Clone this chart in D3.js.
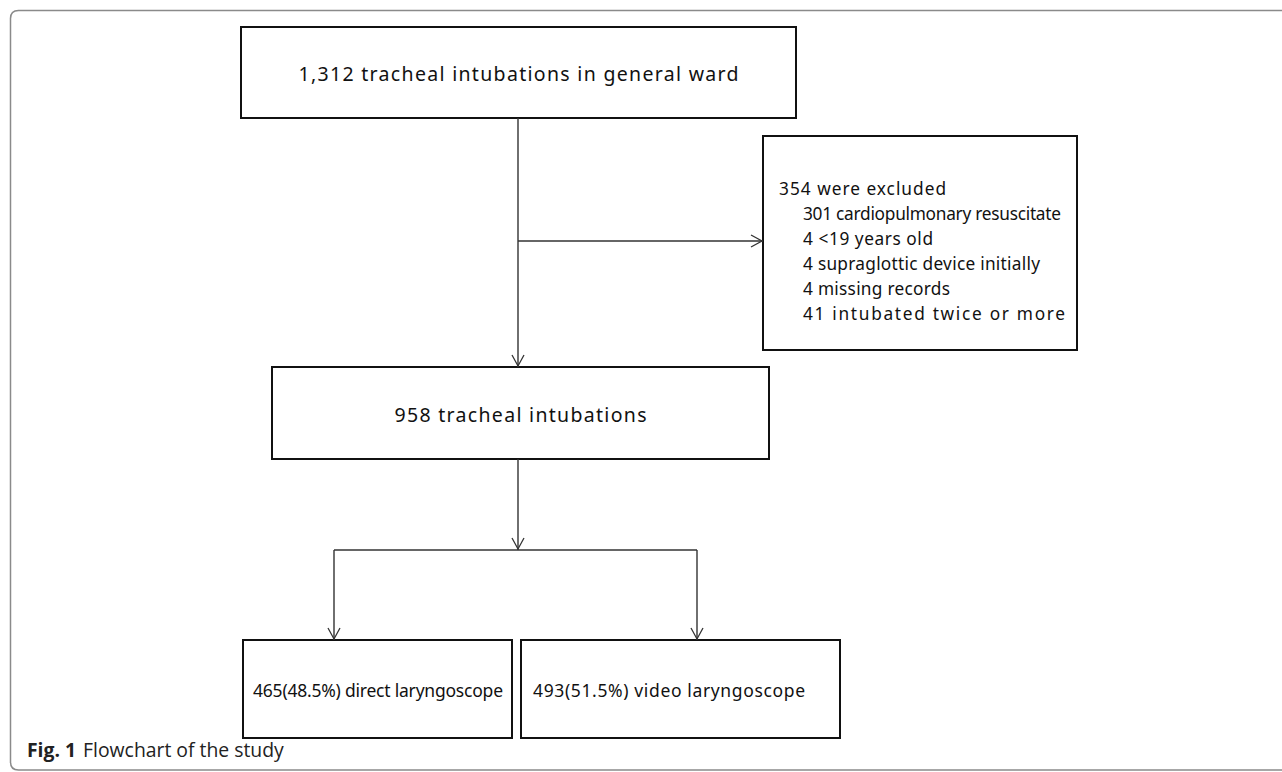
<!DOCTYPE html>
<html>
<head>
<meta charset="utf-8">
<script src="https://cdn.jsdelivr.net/npm/d3@7"></script>
<style>
  html, body { margin: 0; padding: 0; background: #fff; }
  svg { display: block; }
</style>
</head>
<body>
<svg id="chart" width="1282" height="772"></svg>
<script>
// ---- data ----
const totalLabel = "1,312 tracheal intubations in general ward";
const excludedHeader = "354 were excluded";
const excludedCounts = ["301", "4", "4", "4", "41"];
const excludedReasons = ["cardiopulmonary resuscitate", "<19 years old", "supraglottic device initially", "missing records", "intubated twice or more"];
const includedLabel = "958 tracheal intubations";
const groupCounts = ["465", "493"];
const groupPercents = ["48.5%", "51.5%"];
const groupNames = ["direct laryngoscope", "video laryngoscope"];
const captionBold = "Fig. 1";
const captionText = "Flowchart of the study";

// ---- layout ----
const svg = d3.select("#chart");
const FONT = "'Noto Sans', 'DejaVu Sans', sans-serif";
const boxStroke = "#111";
const lineStroke = "#333";

// outer frame (rounded on the left, open to the right/bottom)
svg.append("path")
  .attr("d", "M 1290 10.5 L 18.5 10.5 Q 10.5 10.5 10.5 18.5 L 10.5 762 Q 10.5 770 18.5 770 L 1290 770")
  .attr("fill", "none").attr("stroke", "#8a8a8a").attr("stroke-width", 1.5);

const boxes = [
  {x: 241, y: 27, w: 555, h: 91, label: totalLabel, align: "middle", size: 19.5, tw: 440},
  {x: 272, y: 367, w: 497, h: 92, label: includedLabel, align: "middle", size: 19.5, tw: 252},
  {x: 243, y: 640, w: 269, h: 98, label: groupCounts[0] + "(" + groupPercents[0] + ") " + groupNames[0], align: "start", pad: 10, size: 17.5, tw: 250},
  {x: 521, y: 640, w: 319, h: 98, label: groupCounts[1] + "(" + groupPercents[1] + ") " + groupNames[1], align: "start", pad: 12, size: 17.5, tw: 272}
];

boxes.forEach(b => {
  svg.append("rect").attr("x", b.x).attr("y", b.y).attr("width", b.w).attr("height", b.h)
    .attr("fill", "#fff").attr("stroke", boxStroke).attr("stroke-width", 2);
  svg.append("text")
    .attr("x", b.align === "middle" ? b.x + b.w / 2 : b.x + b.pad)
    .attr("y", b.y + b.h / 2 + 1)
    .attr("text-anchor", b.align).attr("dominant-baseline", "central")
    .attr("font-family", FONT).attr("font-size", b.size).attr("fill", "#111")
    .attr("textLength", b.tw).attr("lengthAdjust", "spacing")
    .text(b.label);
});

// exclusion box
const ex = {x: 763, y: 136, w: 314, h: 214};
svg.append("rect").attr("x", ex.x).attr("y", ex.y).attr("width", ex.w).attr("height", ex.h)
  .attr("fill", "#fff").attr("stroke", boxStroke).attr("stroke-width", 2);
const exLines = [excludedHeader].concat(excludedCounts.map((c, i) => c + " " + excludedReasons[i]));
const exTargets = [167, 258, 130, 237, 147, 262];
const exText = svg.append("g").selectAll("text").data(exLines).join("text")
  .attr("x", (d, i) => i === 0 ? ex.x + 16 : ex.x + 40)
  .attr("y", (d, i) => 188 + i * 25)
  .attr("dominant-baseline", "central")
  .attr("font-family", FONT).attr("font-size", 18).attr("fill", "#111")
  .text(d => d);
// size so the widest-natural line fits slightly compressed, then match each line's width
const w301 = exText.filter((d, i) => i === 1).node().getComputedTextLength();
exText.attr("font-size", 18 * 266 / w301)
  .attr("textLength", (d, i) => exTargets[i]).attr("lengthAdjust", "spacing");

// connectors
function line(x1, y1, x2, y2) {
  svg.append("line").attr("x1", x1).attr("y1", y1).attr("x2", x2).attr("y2", y2)
    .attr("stroke", lineStroke).attr("stroke-width", 1.4);
}
function arrowDown(x, y) {
  svg.append("path").attr("d", `M ${x - 6} ${y - 11} L ${x} ${y} L ${x + 6} ${y - 11}`)
    .attr("fill", "none").attr("stroke", lineStroke).attr("stroke-width", 1.3);
}
function arrowRight(x, y) {
  svg.append("path").attr("d", `M ${x - 11} ${y - 6} L ${x} ${y} L ${x - 11} ${y + 6}`)
    .attr("fill", "none").attr("stroke", lineStroke).attr("stroke-width", 1.3);
}

const cx = 518;
line(cx, 118, cx, 367); arrowDown(cx, 366);
line(cx, 241, ex.x, 241); arrowRight(ex.x - 1, 241);
line(cx, 459, cx, 550); arrowDown(cx, 549);
line(334, 550, 697, 550);
line(334, 550, 334, 640); arrowDown(334, 639);
line(697, 550, 697, 640); arrowDown(697, 639);

// caption
const cap = svg.append("text").attr("x", 27).attr("y", 757)
  .attr("font-family", "'Open Sans', sans-serif").attr("font-size", 18).attr("fill", "#222");
cap.append("tspan").attr("font-weight", "bold").text(captionBold);
cap.append("tspan").attr("dx", 7).text(captionText);
cap.attr("font-size", 18 * 250 / cap.node().getComputedTextLength());
</script>
</body>
</html>
